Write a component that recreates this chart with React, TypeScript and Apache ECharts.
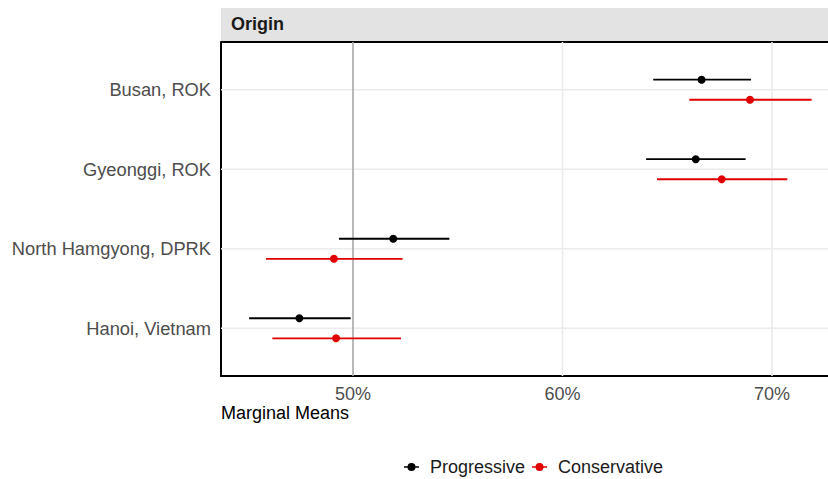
import React, { useEffect, useRef } from "react";
import * as echarts from "echarts";

const categories = ["Busan, ROK", "Gyeonggi, ROK", "North Hamgyong, DPRK", "Hanoi, Vietnam"];
const progEst = [66.64, 66.36, 51.92, 47.44];
const progLow = [64.33, 63.99, 49.33, 45.04];
const progHigh = [69.0, 68.74, 54.6, 49.89];
const consEst = [68.95, 67.6, 49.09, 49.19];
const consLow = [66.05, 64.51, 45.85, 46.15];
const consHigh = [71.89, 70.73, 52.37, 52.29];
const xTicks = [50, 60, 70];
const refLine = 50;
const seriesNames = ["Progressive", "Conservative"];

const X_MIN = 43.699;
const X_MAX = 72.673;
const Y_MIN = -0.6;
const Y_MAX = 3.6;
const DODGE = 0.126;

export default function App() {
  const ref = useRef<HTMLDivElement>(null);
  useEffect(() => {
    if (!ref.current) return;
    const chart = echarts.init(ref.current, null, { renderer: "svg" });
    const font = "'Liberation Sans', Arial, sans-serif";

    const errSeries = (name: string, color: string, est: number[], lo: number[], hi: number[], off: number) => ({
      name,
      type: "custom",
      z: 5,
      itemStyle: { color },
      encode: { x: [0, 1, 2], y: 3 },
      data: est.map((e, i) => [e, lo[i], hi[i], i + off]),
      renderItem: (params: any, api: any) => {
        const y = api.value(3);
        const a = api.coord([api.value(1), y]);
        const b = api.coord([api.value(2), y]);
        const p = api.coord([api.value(0), y]);
        return {
          type: "group",
          children: [
            { type: "line", shape: { x1: a[0], y1: a[1], x2: b[0], y2: b[1] }, style: { stroke: color, lineWidth: 1.8 } },
            { type: "circle", shape: { cx: p[0], cy: p[1], r: 4 }, style: { fill: color } },
          ],
        };
      },
    });

    const vLines = (vals: number[], color: string, width: number, z: number) => ({
      type: "custom",
      silent: true,
      z,
      data: vals.map((v) => [v, 0]),
      encode: { x: 0, y: 1 },
      renderItem: (params: any, api: any) => {
        const a = api.coord([api.value(0), Y_MIN]);
        const b = api.coord([api.value(0), Y_MAX]);
        return { type: "line", shape: { x1: a[0], y1: a[1], x2: b[0], y2: b[1] }, style: { stroke: color, lineWidth: width } };
      },
    });

    const hLines = {
      type: "custom",
      silent: true,
      z: 1,
      data: categories.map((_, i) => [X_MIN, i]),
      encode: { x: 0, y: 1 },
      renderItem: (params: any, api: any) => {
        const a = api.coord([X_MIN, api.value(1)]);
        const b = api.coord([X_MAX, api.value(1)]);
        return { type: "line", shape: { x1: a[0], y1: a[1], x2: b[0], y2: b[1] }, style: { stroke: "#ebebeb", lineWidth: 1.6 } };
      },
    };

    chart.setOption({
      animation: false,
      backgroundColor: "#ffffff",
      textStyle: { fontFamily: font },
      grid: { left: 221, top: 42, width: 607, height: 334, containLabel: false, show: false },
      xAxis: {
        type: "value",
        position: "bottom",
        min: X_MIN,
        max: X_MAX,
        axisLine: { show: true, onZero: false, lineStyle: { color: "#000000", width: 2 } },
        axisTick: { show: false },
        splitLine: { show: false },
        splitArea: { show: false },
        axisLabel: {
          customValues: xTicks,
          formatter: "{value}%",
          color: "#4d4d4d",
          fontSize: 18,
          margin: 9,
          fontFamily: font,
        },
      },
      yAxis: {
        type: "value",
        position: "left",
        min: Y_MIN,
        max: Y_MAX,
        inverse: true,
        axisLine: { show: true, onZero: false, lineStyle: { color: "#000000", width: 2 } },
        axisTick: { show: false },
        splitLine: { show: false },
        splitArea: { show: false },
        axisLabel: {
          customValues: [0, 1, 2, 3],
          formatter: (v: number) => categories[Math.round(v)] ?? "",
          color: "#4d4d4d",
          fontSize: 18.3,
          margin: 10,
          fontFamily: font,
        },
      },
      legend: {
        data: seriesNames,
        left: 404,
        top: 458,
        padding: 0,
        itemWidth: 15,
        itemHeight: 8,
        itemGap: 7,
        icon: "path://M0,3.2L15,3.2L15,4.8L0,4.8Z M11.5,4A4,4 0 1 1 3.5,4A4,4 0 1 1 11.5,4Z",
        textStyle: { fontSize: 18, color: "#1a1a1a", fontFamily: font, padding: [0, 0, 0, 6] },
      },
      graphic: [
        { type: "rect", left: 221, top: 8, shape: { width: 607, height: 34 }, style: { fill: "#e3e3e3" }, silent: true },
        { type: "line", shape: { x1: 221, y1: 42, x2: 828, y2: 42 }, style: { stroke: "#000000", lineWidth: 2 }, silent: true },
        { type: "text", left: 231, top: 15, style: { text: "Origin", fontSize: 18, fontWeight: "bold", fill: "#1a1a1a", fontFamily: font } },
        { type: "text", left: 221, top: 404, style: { text: "Marginal Means", fontSize: 18, fill: "#000000", fontFamily: font } },
      ],
      series: [
        hLines,
        vLines(xTicks.filter((v) => v !== refLine), "#ebebeb", 1.6, 1),
        vLines([refLine], "#a9a9a9", 1.6, 2),
        errSeries(seriesNames[0], "#000000", progEst, progLow, progHigh, -DODGE),
        errSeries(seriesNames[1], "#e00000", consEst, consLow, consHigh, DODGE),
      ],
    });
    return () => chart.dispose();
  }, []);
  return <div ref={ref} style={{ position: "absolute", left: 0, top: 0, width: 828, height: 479 }} />;
}
